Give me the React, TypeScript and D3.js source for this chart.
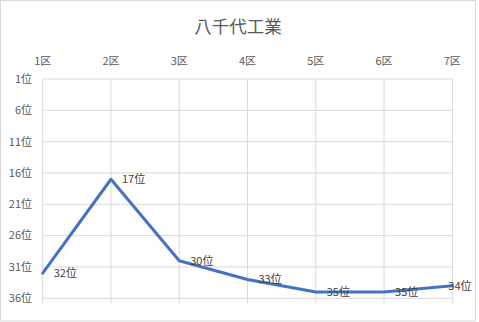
import React from "react";
import * as d3 from "d3";

const title = "八千代工業";
const categories = ["1区", "2区", "3区", "4区", "5区", "6区", "7区"];
const ranks = [32, 17, 30, 33, 35, 35, 34];
const yTicks = [1, 6, 11, 16, 21, 26, 31, 36];

const W = 479;
const H = 322;
const FONT = '"Noto Sans CJK JP", "Noto Sans", sans-serif';

export default function App() {
  const x = d3.scalePoint<string>().domain(categories).range([42.7, 452.3]);
  const y = d3.scaleLinear().domain([1, 36]).range([79, 298.3]);
  const line = d3
    .line<number>()
    .x((_, i) => x(categories[i]) as number)
    .y((d) => y(d));
  const top = y(1);
  const bottom = y(36);

  return (
    <svg
      width={W}
      height={H}
      style={{ position: "absolute", left: 0, top: 0, fontFamily: FONT }}
    >
      <rect x={0} y={0} width={W} height={H} fill="#fff" />
      <rect x={0.5} y={0.5} width={475} height={320.5} fill="none" stroke="#D9D9D9" />
      <text x={238} y={33} textAnchor="middle" fontSize={17.5} fill="#595959">
        {title}
      </text>
      {yTicks.map((t) => (
        <g key={t}>
          <line x1={x(categories[0])} x2={x(categories[categories.length - 1])} y1={y(t)} y2={y(t)} stroke="#D9D9D9" strokeWidth={1} />
          <text x={32} y={y(t)} dy="0.35em" textAnchor="end" fontSize={11} fill="#595959">
            {t}位
          </text>
        </g>
      ))}
      {categories.map((c) => (
        <g key={c}>
          <line x1={x(c)} x2={x(c)} y1={top} y2={bottom + 5} stroke="#D9D9D9" strokeWidth={1} />
          <text x={x(c)} y={65} textAnchor="middle" fontSize={11} fill="#595959">
            {c}
          </text>
        </g>
      ))}
      <path d={line(ranks) || ""} fill="none" stroke="#4472C4" strokeWidth={3} strokeLinejoin="round" strokeLinecap="round" />
      {ranks.map((r, i) => (
        <text key={i} x={(x(categories[i]) as number) + (i === ranks.length - 1 ? -4 : 11)} y={y(r)} dy="0.35em" fontSize={11} fill="#404040">
          {r}位
        </text>
      ))}
    </svg>
  );
}
